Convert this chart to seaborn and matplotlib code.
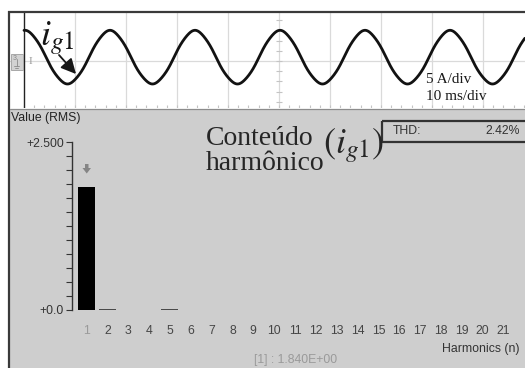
import numpy as np
import matplotlib
matplotlib.use("Agg")
import matplotlib.pyplot as plt
import seaborn as sns
from matplotlib.patches import Rectangle, Polygon

# ---- harmonic spectrum of i_g1 (RMS values, A) ----
harmonic_order = list(range(1, 22))
harmonic_rms = [1.840, 0.020, 0.0, 0.0, 0.022, 0.0, 0.0, 0.0, 0.0, 0.0, 0.0,
                0.0, 0.0, 0.0, 0.0, 0.0, 0.0, 0.0, 0.0, 0.0, 0.0]
thd_percent = 2.42
y_tick_labels = {0.0: "+0.0", 2.5: "+2.500"}

# ---- scope trace parameters ----
fundamental_hz = 60.0
peak_time_ms = 0.2        # first crest of the fundamental
dc_offset_a = 0.35
record_ms = 98.2
time_per_div_ms = 10
amps_per_div = 5

sns.set_style("white")
plt.rcParams["font.family"] = ["Liberation Sans", "DejaVu Sans"]
plt.rcParams["mathtext.fontset"] = "stix"

W, H = 525, 368
fig = plt.figure(figsize=(W / 100, H / 100), dpi=100)
fig.patch.set_facecolor("white")


def frac(left, top, right, bottom):
    return [left / W, 1 - bottom / H, (right - left) / W, (bottom - top) / H]


# ---------------- oscilloscope panel ----------------
ax_top = fig.add_axes(frac(10, 12, 525, 108))
ax_top.set_facecolor("white")
px_per_ms = 51 / time_per_div_ms
px_per_a = 51 / amps_per_div
xlim_top = (-14 / px_per_ms, 501 / px_per_ms)
ylim_top = (-47 / px_per_a, 49 / px_per_a)

t_ms = np.linspace(0, record_ms, 3000)
current = np.full_like(t_ms, dc_offset_a)
for n, h in zip(harmonic_order, harmonic_rms):
    current += np.sqrt(2) * h * np.cos(2 * np.pi * n * fundamental_hz * (t_ms - peak_time_ms) / 1000)
sns.lineplot(x=t_ms, y=current, ax=ax_top, color="#121212", lw=2.0, zorder=4)

for tv in np.arange(time_per_div_ms, record_ms + 5, time_per_div_ms):
    ax_top.axvline(tv, color="#dadada", lw=0.9, zorder=1)
ax_top.axhline(0, color="#dadada", lw=0.9, zorder=1)
ax_top.axvline(0, color="#222222", lw=1.0, zorder=3)
# minor ticks along the bottom edge and the central vertical division
ax_top.vlines(np.arange(0, record_ms + 4, 2), ylim_top[0], ylim_top[0] + 0.3,
              color="#c4c4c4", lw=0.8)
ax_top.hlines(np.arange(-4, 5, 1), 49.4, 50.6, color="#c4c4c4", lw=0.8)

ax_top.set_xlim(*xlim_top)
ax_top.set_ylim(*ylim_top)
for s in ax_top.spines.values():
    s.set_visible(False)
ax_top.set_xticks([])
ax_top.set_yticks([])
ax_top.set_xlabel("")
ax_top.set_ylabel("")

# ---------------- harmonic panel ----------------
ax_bg = fig.add_axes(frac(10, 110, 525, 368))
ax_bg.set_facecolor("#cecece")
ax_bg.set_xticks([])
ax_bg.set_yticks([])
for s in ax_bg.spines.values():
    s.set_visible(False)

ax_bar = fig.add_axes(frac(72, 142.3, 525, 310))
ax_bar.patch.set_alpha(0)
labels = [str(n) for n in harmonic_order]
palette = {lab: ("#000000" if lab == "1" else "#4a4a4a") for lab in labels}
sns.barplot(x=labels, y=harmonic_rms, hue=labels, palette=palette, legend=False,
            width=0.82, saturation=1, linewidth=0, ax=ax_bar)
ax_bar.set_xlim(-14.5 / 20.85, 438.5 / 20.85)
ax_bar.set_ylim(0, 2.5)
for name, s in ax_bar.spines.items():
    s.set_visible(name == "left")
ax_bar.spines["left"].set_color("#333333")
ax_bar.spines["left"].set_linewidth(1.0)
yt = np.linspace(0, 2.5, 13)
ax_bar.set_yticks(yt)
ax_bar.set_yticklabels([y_tick_labels.get(round(v, 3), "") for v in yt])
ax_bar.tick_params(axis="y", left=True, direction="out", length=4.3, width=0.8,
                   color="#333333", pad=1.5, labelsize=8.8, labelcolor="#333333")
ax_bar.tick_params(axis="x", bottom=False, length=0, pad=11, labelsize=8.8, labelcolor="#454545")
ax_bar.get_xticklabels()[0].set_color("#9a9a9a")
ax_bar.set_xlabel("")
ax_bar.set_ylabel("")

# ---------------- frame, labels and annotations ----------------
ov = fig.add_axes([0, 0, 1, 1])
ov.set_xlim(0, W)
ov.set_ylim(H, 0)
ov.axis("off")
ov.patch.set_alpha(0)

ov.plot([8, W], [11.5, 11.5], color="#3a3a3a", lw=1.6, solid_capstyle="butt")
ov.plot([9, 9], [11, H], color="#3a3a3a", lw=1.6, solid_capstyle="butt")
ov.plot([10, W], [109, 109], color="#8c8c8c", lw=0.9)

# channel ground marker
ov.add_patch(Rectangle((10.5, 54), 12, 16, facecolor="#d2d2d2", edgecolor="#a8a8a8", lw=0.7))
ov.text(12.5, 58.5, "3", fontsize=5, color="#8a8a8a", va="center")
ov.plot([16.5, 16.5], [59, 66], color="#8a8a8a", lw=0.6)
ov.plot([14, 19], [66, 66], color="#8a8a8a", lw=0.6)
ov.plot([15, 18], [68, 68], color="#8a8a8a", lw=0.6)
ov.text(29, 61, "I", fontsize=8, color="#9a9a9a", va="center", family="Liberation Serif")

ov.text(40, 45, r"$i_{g1}$", fontsize=26, color="#151515", va="baseline")
ov.annotate("", xy=(76, 74), xytext=(59, 55),
            arrowprops=dict(arrowstyle="-|>,head_length=0.9,head_width=0.45",
                            color="#151515", lw=1.3, shrinkA=0, shrinkB=0))
ov.text(426, 83, f"{amps_per_div} A/div", fontsize=11, color="#1a1a1a",
        va="baseline", family="Liberation Serif")
ov.text(426, 100, f"{time_per_div_ms} ms/div", fontsize=11, color="#1a1a1a",
        va="baseline", family="Liberation Serif")

ov.text(11, 112, "Value (RMS)", fontsize=8.8, color="#222222", va="top")
ov.text(206, 145, "Conteúdo", fontsize=20, color="#262626", va="baseline", family="Liberation Serif")
ov.text(206, 170, "harmônico", fontsize=20, color="#262626", va="baseline", family="Liberation Serif")
ov.text(323, 153, r"$(i_{g1})$", fontsize=26, color="#262626", va="baseline")

ov.add_patch(Rectangle((382, 121), 160, 21, facecolor="none", edgecolor="#333333", lw=1.6))
ov.text(393, 131.5, "THD:", fontsize=8.8, color="#333333", va="center")
ov.text(520, 131.5, f"{thd_percent:.2f}%", fontsize=8.8, color="#333333", va="center", ha="right")

# cursor marker over the selected harmonic
ov.add_patch(Polygon([(85, 164), (88.5, 164), (88.5, 168), (91, 168), (86.75, 173.5),
                      (82.5, 168), (85, 168)], closed=True, facecolor="#858585", edgecolor="none"))

ov.text(519, 349, "Harmonics (n)", fontsize=8.8, color="#333333", va="center", ha="right")
ov.text(296, 360, f"[1] : {harmonic_rms[0]:.3E}", fontsize=8.8, color="#9a9a9a",
        va="center", ha="center")

fig.savefig("out.png", dpi=100)
